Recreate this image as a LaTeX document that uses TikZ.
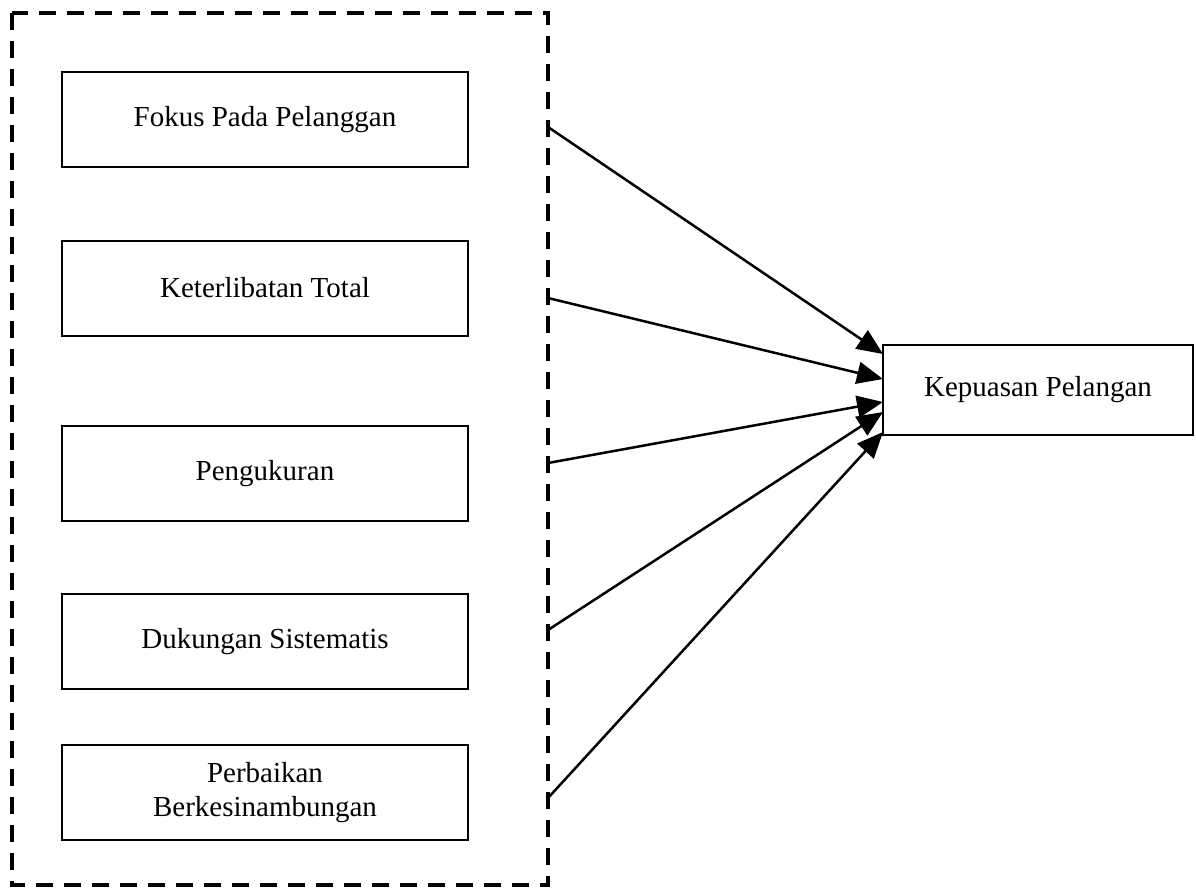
\documentclass[tikz,border=0pt]{standalone}
\usepackage{fontspec}
\setmainfont{Liberation Serif}
\usetikzlibrary{arrows.meta}
\begin{document}
\begin{tikzpicture}[x=1pt,y=-1pt,
  factor/.style={draw, line width=2pt, minimum width=406pt, minimum height=95pt, inner sep=0pt, align=center, font=\fontsize{29}{34}\selectfont},
  result/.style={draw, line width=2pt, minimum width=310pt, minimum height=90pt, inner sep=0pt, align=center, font=\fontsize{29}{34}\selectfont},
  group/.style={draw, line width=3.5pt, dash pattern=on 17pt off 11pt},
  link/.style={line width=2.5pt, -{Triangle[length=26pt, width=22pt]}}
]
\useasboundingbox (0,0) rectangle (1196,894);
\draw[group] (12,13) rectangle (548,885);
\node[factor] (f1) at (265,119.5) {Fokus Pada Pelanggan};
\node[factor] (f2) at (265,288) {Keterlibatan Total};
\node[factor] (f3) at (265,473.5) {Pengukuran};
\node[factor] (f4) at (265,641.5) {Dukungan Sistematis};
\node[factor] (f5) at (265,792.5) {Perbaikan\\Berkesinambungan};
\node[result] (kp) at (1038,390) {Kepuasan Pelangan};
\coordinate (s1) at (548,127);
\coordinate (s2) at (548,298);
\coordinate (s3) at (548,463);
\coordinate (s4) at (548,630);
\coordinate (s5) at (548,798);
\coordinate (e1) at (883,354);
\coordinate (e2) at (883,379);
\coordinate (e3) at (883,402);
\coordinate (e4) at (883,412);
\coordinate (e5) at (883,432);
\draw[link] (s1) -- (e1);
\draw[link] (s2) -- (e2);
\draw[link] (s3) -- (e3);
\draw[link] (s4) -- (e4);
\draw[link] (s5) -- (e5);
\end{tikzpicture}
\end{document}
